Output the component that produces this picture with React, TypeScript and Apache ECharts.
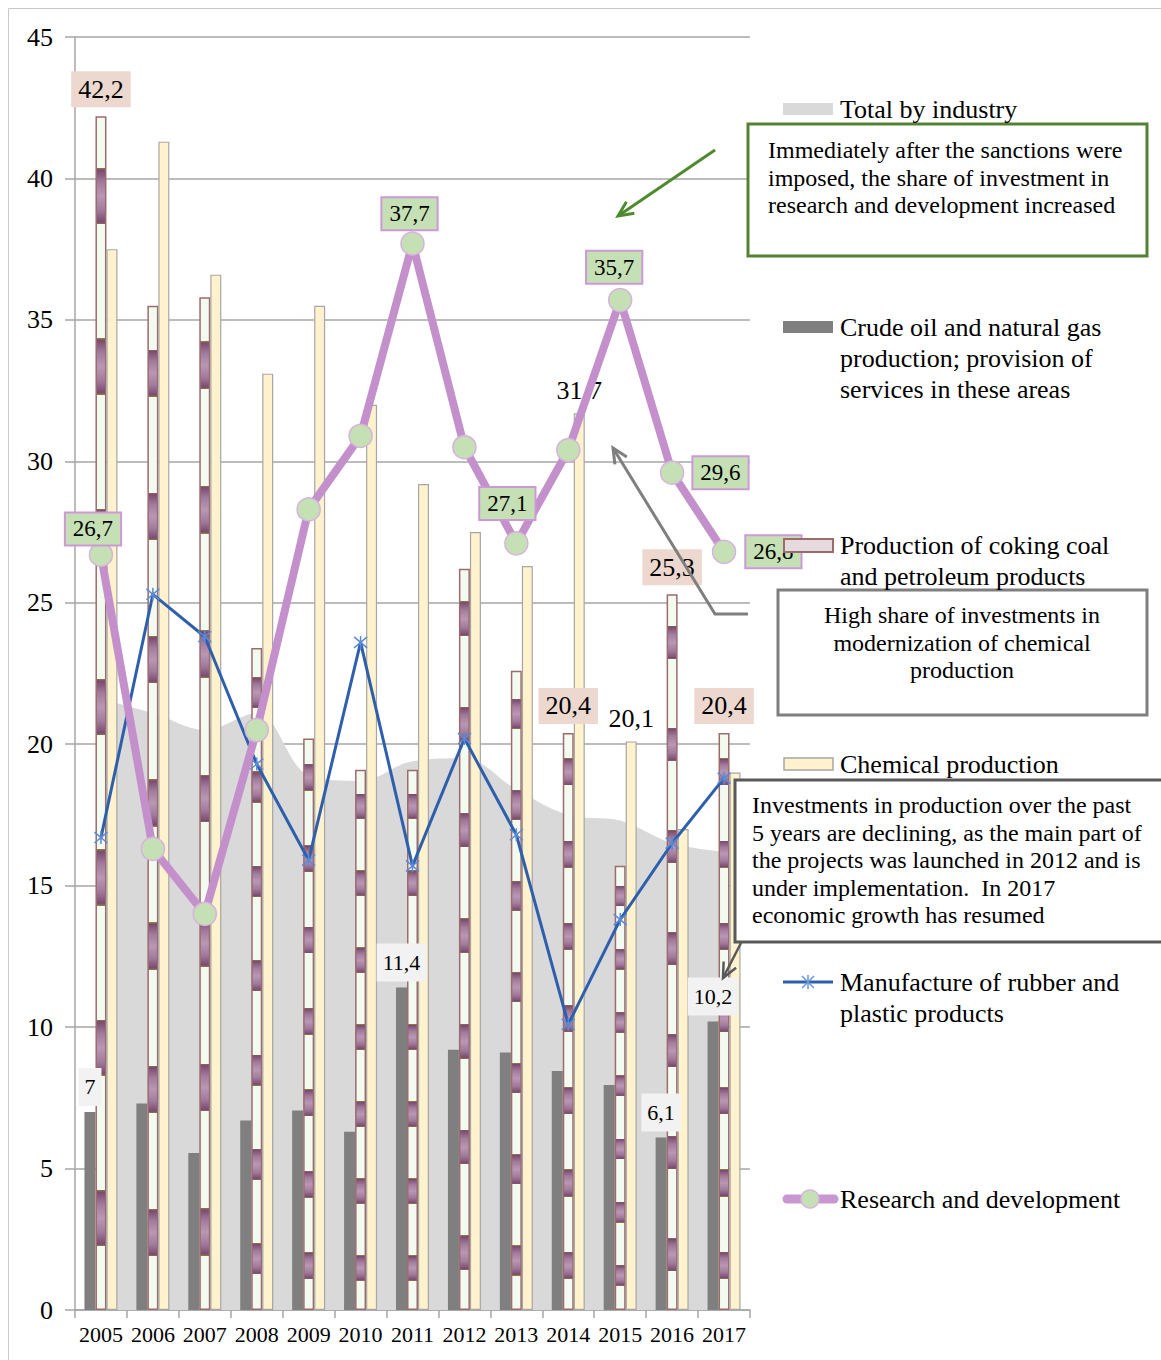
import React, { useEffect, useRef } from "react";
import * as echarts from "echarts";

// ---------------- DATA ----------------
const years = ["2005", "2006", "2007", "2008", "2009", "2010", "2011", "2012", "2013", "2014", "2015", "2016", "2017"];
const totalByIndustry = [21.6, 21.1, 20.5, 21.1, 18.9, 18.7, 19.4, 19.5, 18.4, 17.5, 17.3, 16.5, 16.2];
const crudeOil = [7, 7.3, 5.55, 6.7, 7.05, 6.3, 11.4, 9.2, 9.1, 8.45, 7.95, 6.1, 10.2];
const cokingCoal = [42.2, 35.5, 35.8, 23.4, 20.2, 19.1, 19.1, 26.2, 22.6, 20.4, 15.7, 25.3, 20.4];
const chemical = [37.5, 41.3, 36.6, 33.1, 35.5, 32.0, 29.2, 27.5, 26.3, 31.7, 20.1, 17.0, 19.0];
const rubberPlastic = [16.7, 25.3, 23.8, 19.3, 15.9, 23.6, 15.7, 20.2, 16.8, 10.1, 13.8, 16.5, 18.8];
const researchDev = [26.7, 16.3, 14.0, 20.5, 28.3, 30.9, 37.7, 30.5, 27.1, 30.4, 35.7, 29.6, 26.8];

const seriesNames = [
  "Total by industry",
  "Crude oil and natural gas production; provision of services in these areas",
  "Production of coking coal and petroleum products",
  "Chemical production",
  "Manufacture of rubber and plastic products",
  "Research and development",
];

// indices of points that carry a data label
const crudeLabelIdx = [0, 6, 11, 12];
const cokingLabelIdx = [0, 9, 11, 12];
const chemicalLabelIdx = [9, 10];
const rdLabelIdx = [0, 6, 8, 10, 11, 12];

// ---------------- STYLE ----------------
const FONT = "Liberation Serif, serif";
const fmt = (v: number) => String(v).replace(".", ",");

const rdLabelPlacement: Record<number, any> = {
  0: { position: "top", distance: -2, offset: [-8, 0] },
  6: { position: "top", distance: 2, offset: [-3, 0] },
  8: { position: "top", distance: 12, offset: [-9, 0] },
  10: { position: "top", distance: 5, offset: [-6, 0] },
  11: { position: "right", distance: 9, offset: [0, 0] },
  12: { position: "right", distance: 10, offset: [0, 0] },
};

function stripeGradient() {
  const white = "#f3fbf0";
  const dark = "#7a4b72";
  const mid = "#a27b9c";
  const light = "#ba97b5";
  const olive = "#8c7b40";
  const pts: [number, string][] = [];
  const n = 7;
  for (let k = 0; k < n; k++) {
    const p0 = k / n;
    const a = (k + 0.37) / n;
    const b = (k + 0.7) / n;
    const p1 = (k + 1) / n;
    const L = b - a;
    pts.push(
      [p0, white],
      [a, white],
      [a, olive],
      [a + L * 0.04, dark],
      [a + L * 0.25, mid],
      [a + L * 0.5, light],
      [a + L * 0.75, mid],
      [b - L * 0.04, dark],
      [b, olive],
      [b, white],
      [p1, white]
    );
  }
  const stops = pts
    .slice()
    .reverse()
    .map(([b, c]) => ({ offset: Math.min(1, Math.max(0, 1 - b)), color: c }));
  return { type: "linear", x: 0, y: 0, x2: 0, y2: 1, colorStops: stops };
}

function arrowHead(tip: number[], from: number[], len = 15, half = 7) {
  const dx = tip[0] - from[0];
  const dy = tip[1] - from[1];
  const d = Math.hypot(dx, dy);
  const ux = dx / d;
  const uy = dy / d;
  const bx = tip[0] - ux * len;
  const by = tip[1] - uy * len;
  const px = -uy;
  const py = ux;
  return [
    [bx + px * half, by + py * half],
    [tip[0], tip[1]],
    [bx - px * half, by - py * half],
  ];
}

function arrow(points: number[][], color: string, width: number) {
  const tip = points[points.length - 1];
  const from = points[points.length - 2];
  return [
    { type: "polyline", z: 100, silent: true, shape: { points }, style: { stroke: color, lineWidth: width, fill: "none" } },
    {
      type: "polyline",
      z: 100,
      silent: true,
      shape: { points: arrowHead(tip, from) },
      style: { stroke: color, lineWidth: width, fill: "none", lineJoin: "miter" },
    },
  ];
}

function txt(x: number, y: number, text: string, size: number, align = "left", lineHeight?: number) {
  return {
    type: "text",
    x,
    y,
    z: 101,
    silent: true,
    style: {
      text,
      fill: "#000",
      font: `${size}px ${FONT}`,
      fontSize: size,
      fontFamily: FONT,
      textAlign: align,
      textVerticalAlign: "top",
      lineHeight: lineHeight ?? Math.round(size * 1.15),
    },
  };
}

function rect(x: number, y: number, w: number, h: number, fill: string, stroke?: string, lw = 0) {
  return {
    type: "rect",
    z: 100,
    silent: true,
    shape: { x, y, width: w, height: h },
    style: { fill, stroke: stroke ?? "none", lineWidth: lw },
  };
}

export default function App() {
  const ref = useRef<HTMLDivElement>(null);

  useEffect(() => {
    document.body.style.margin = "0";
    const chart = echarts.init(ref.current!, null, { renderer: "svg" });

    const crudeData = crudeOil.map((v, i) =>
      crudeLabelIdx.includes(i)
        ? {
            value: v,
            label: {
              show: true,
              position: "top",
              distance: 6,
              formatter: () => fmt(v),
              fontSize: 22,
              fontFamily: FONT,
              color: "#000",
              backgroundColor: "#f2f2f2",
              padding: [8, 6],
            },
          }
        : v
    );
    const cokingData = cokingCoal.map((v, i) =>
      cokingLabelIdx.includes(i)
        ? {
            value: v,
            label: {
              show: true,
              position: "top",
              distance: 9,
              formatter: () => fmt(v),
              fontSize: 26,
              fontFamily: FONT,
              color: "#000",
              backgroundColor: "#ecd8ce",
              padding: [5, 7],
            },
          }
        : v
    );
    const chemicalData = chemical.map((v, i) =>
      chemicalLabelIdx.includes(i)
        ? {
            value: v,
            label: {
              show: true,
              position: "top",
              distance: 10,
              formatter: () => fmt(v),
              fontSize: 26,
              fontFamily: FONT,
              color: "#000",
            },
          }
        : v
    );
    const rdData = researchDev.map((v, i) =>
      rdLabelIdx.includes(i)
        ? {
            value: v,
            label: {
              show: true,
              ...rdLabelPlacement[i],
              formatter: () => fmt(v),
              fontSize: 23,
              fontFamily: FONT,
              color: "#000",
              backgroundColor: "#c5e0b4",
              borderColor: "#cc99d6",
              borderWidth: 2,
              padding: [4, 7],
            },
          }
        : v
    );

    const axisColor = "#a6a6a6";

    const graphic: any[] = [
      // outer frame
      {
        type: "rect",
        z: 0,
        silent: true,
        shape: { x: 8.5, y: 8.5, width: 1170, height: 1370 },
        style: { fill: "none", stroke: "#c8c8c8", lineWidth: 1 },
      },
      // legend: Total by industry
      rect(783, 103, 50, 12, "#d9d9d9"),
      txt(840, 109 - 15.5, "Total by industry", 26, "left", 31),
      // legend: crude oil
      rect(783, 321, 50, 12, "#7f7f7f"),
      txt(840, 327 - 15.5, "Crude oil and natural gas\nproduction; provision of\nservices in these areas", 26, "left", 31),
      // legend: coking coal
      rect(784, 539, 49, 13, "#e6dadf", "#9c6b6b", 2),
      txt(840, 545 - 15.5, "Production of coking coal\nand petroleum products", 26, "left", 31),
      // legend: chemical
      rect(784, 758, 49, 12, "#fff2cc", "#a6a6a6", 1.5),
      txt(840, 764 - 15.5, "Chemical production", 26, "left", 31),
      // legend: rubber
      {
        type: "line",
        z: 100,
        silent: true,
        shape: { x1: 783, y1: 982, x2: 833, y2: 982 },
        style: { stroke: "#2e5fac", lineWidth: 3 },
      },
      {
        type: "line",
        z: 101,
        silent: true,
        shape: { x1: 808, y1: 975, x2: 808, y2: 989 },
        style: { stroke: "#6b95dc", lineWidth: 1.5 },
      },
      {
        type: "line",
        z: 101,
        silent: true,
        shape: { x1: 802, y1: 976, x2: 814, y2: 988 },
        style: { stroke: "#6b95dc", lineWidth: 1.5 },
      },
      {
        type: "line",
        z: 101,
        silent: true,
        shape: { x1: 802, y1: 988, x2: 814, y2: 976 },
        style: { stroke: "#6b95dc", lineWidth: 1.5 },
      },
      txt(840, 982 - 15.5, "Manufacture of rubber and\nplastic products", 26, "left", 31),
      // legend: R&D
      {
        type: "line",
        z: 100,
        silent: true,
        shape: { x1: 787, y1: 1199, x2: 834, y2: 1199 },
        style: { stroke: "#c896d0", lineWidth: 9, lineCap: "round" },
      },
      {
        type: "circle",
        z: 101,
        silent: true,
        shape: { cx: 810, cy: 1199, r: 9 },
        style: { fill: "#c5e0b4", stroke: "#d6b3dc", lineWidth: 1.5 },
      },
      txt(840, 1199 - 15.5, "Research and development", 26, "left", 31),

      // annotation: green
      rect(748, 124, 399, 132, "#ffffff", "#548235", 3),
      txt(
        768,
        150 - 13.75,
        "Immediately after the sanctions were\nimposed, the share of investment in\nresearch and development increased",
        24,
        "left",
        27.5
      ),
      ...arrow([[715, 150], [618, 216]], "#4f8a2e", 3),

      // annotation: gray
      rect(778, 590, 369, 125, "#ffffff", "#7f7f7f", 3),
      txt(962, 615 - 13.75, "High share of investments in\nmodernization of chemical\nproduction", 24, "center", 27.5),
      ...arrow([[748, 614], [715, 614], [613, 448]], "#7f7f7f", 3),

      // annotation: bottom
      rect(735, 780, 440, 162, "#ffffff", "#595959", 3),
      txt(
        752,
        805 - 13.75,
        "Investments in production over the past\n5 years are declining, as the main part of\nthe projects was launched in 2012 and is\nunder implementation.  In 2017\neconomic growth has resumed",
        24,
        "left",
        27.5
      ),
      ...arrow([[741, 943], [723, 978]], "#595959", 2.5),
    ];

    const option: any = {
      animation: false,
      backgroundColor: "#ffffff",
      textStyle: { fontFamily: FONT },
      grid: { left: 75, top: 37, width: 675, height: 1273, containLabel: false, outerBoundsMode: "none" },
      xAxis: {
        type: "category",
        data: years,
        boundaryGap: true,
        axisLine: { show: true, lineStyle: { color: axisColor, width: 1.5 } },
        axisTick: { show: true, length: 8, lineStyle: { color: axisColor, width: 1.5 } },
        axisLabel: { interval: 0, fontSize: 22, fontFamily: FONT, color: "#000", margin: 13 },
        splitLine: { show: false },
      },
      yAxis: {
        type: "value",
        min: 0,
        max: 45,
        interval: 5,
        axisLine: { show: true, lineStyle: { color: axisColor, width: 1.5 } },
        axisTick: { show: true, length: 10, lineStyle: { color: axisColor, width: 1.5 } },
        axisLabel: { fontSize: 26, fontFamily: FONT, color: "#000", margin: 22 },
        splitLine: { show: true, lineStyle: { color: axisColor, width: 1.5 } },
      },
      series: [
        {
          name: seriesNames[0],
          type: "line",
          data: totalByIndustry,
          smooth: 0.35,
          symbol: "none",
          lineStyle: { width: 0, color: "#d9d9d9" },
          areaStyle: { color: "#d9d9d9", opacity: 1 },
          z: 1,
        },
        {
          name: seriesNames[1],
          type: "bar",
          data: crudeData,
          barWidth: 11,
          barGap: "0%",
          itemStyle: { color: "#7f7f7f" },
          z: 2,
        },
        {
          name: seriesNames[2],
          type: "bar",
          data: cokingData,
          barWidth: 11,
          barGap: "0%",
          itemStyle: { color: stripeGradient(), borderColor: "#9c6b6b", borderWidth: 1.5 },
          z: 2,
        },
        {
          name: seriesNames[3],
          type: "bar",
          data: chemicalData,
          barWidth: 11,
          barGap: "0%",
          itemStyle: { color: "#fff2cc", borderColor: "#a6a6a6", borderWidth: 1.2 },
          z: 2,
        },
        {
          name: seriesNames[4],
          type: "line",
          data: rubberPlastic,
          symbol: "path://M5,0L5,10M0.8,0.8L9.2,9.2M0.8,9.2L9.2,0.8",
          symbolSize: 13,
          lineStyle: { color: "#2e5fac", width: 3 },
          itemStyle: { color: "#5b8ad6", borderColor: "#5b8ad6", borderWidth: 1.5 },
          z: 3,
        },
        {
          name: seriesNames[5],
          type: "line",
          data: rdData,
          symbol: "circle",
          symbolSize: 23,
          lineStyle: { color: "#c490cc", width: 8 },
          itemStyle: { color: "#c5e0b4", borderColor: "#d6b3dc", borderWidth: 1.5 },
          z: 4,
        },
      ],
      graphic,
    };

    chart.setOption(option);
    return () => chart.dispose();
  }, []);

  return <div ref={ref} style={{ width: 1161, height: 1360 }} />;
}
